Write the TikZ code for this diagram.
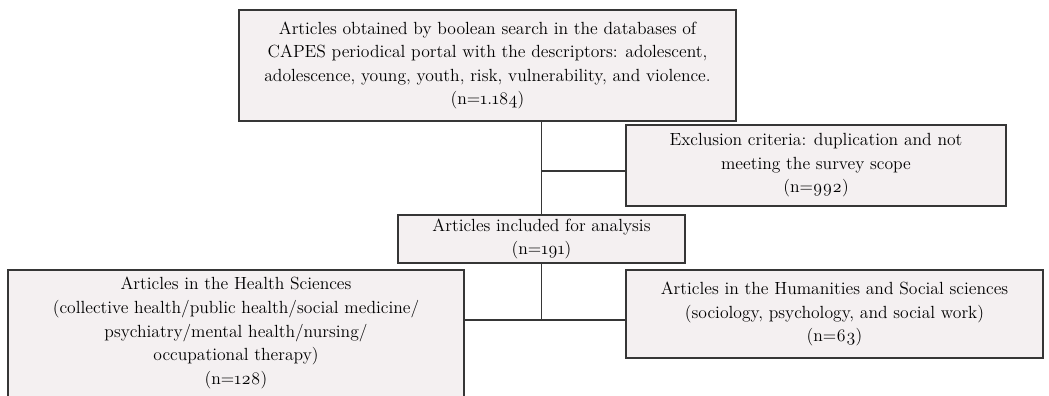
\documentclass[tikz,border=0pt]{standalone}
\usepackage{fontspec}
\setmainfont{Latin Modern Roman}[Numbers=OldStyle]
\definecolor{boxfill}{HTML}{F4F0F1}
\definecolor{boxline}{HTML}{363636}
\begin{document}
\begin{tikzpicture}[x=0.75pt,y=-0.75pt,
  fbox/.style={draw=boxline, line width=1.1pt, fill=boxfill, align=center,
    inner sep=0pt, font=\fontsize{13.2}{17.6}\selectfont},
  btext/.style={align=center, inner sep=0pt, font=\fontsize{13.2}{17.8}\selectfont},
  conn/.style={draw=boxline, line width=1pt}]
\useasboundingbox (0,0) rectangle (1049,396);
\node[fbox, minimum width=372.75pt, minimum height=83.25pt] (top) at (487.5,65.5)
  {Articles obtained by boolean search in the databases of\\
   CAPES periodical portal with the descriptors: adolescent,\\
   adolescence, young, youth, risk, vulnerability, and violence.\\
   (n=1.184)};
\node[fbox, minimum width=285pt, minimum height=60.75pt] (excl) at (816,165.5)
  {Exclusion criteria: duplication and not\\
   meeting the survey scope\\
   (n=992)};
\node[fbox, minimum width=215.25pt, minimum height=36pt] (incl) at (541.5,239)
  {Articles included for analysis\\
   (n=191)};
\node[fbox, minimum width=342pt, minimum height=100.5pt] (health) at (236,337) {};
\node[btext] (healthtxt) at (236,333)
  {Articles in the Health Sciences\\
   (collective health/public health/social medicine/\\
   psychiatry/mental health/nursing/\\
   occupational therapy)\\
   (n=128)};
\node[fbox, minimum width=312.75pt, minimum height=66pt] (hum) at (834.5,314)
  {Articles in the Humanities and Social sciences\\
   (sociology, psychology, and social work)\\
   (n=63)};
\coordinate (j1) at (541.5,171);
\coordinate (j2) at (541.5,320);
\draw[conn] (top.south -| incl.north) -- (incl.north);
\draw[conn] (j1) -- (j1 -| excl.west);
\draw[conn] (incl.south) -- (j2);
\draw[conn] (j2 -| health.east) -- (j2 -| hum.west);
\end{tikzpicture}
\end{document}
